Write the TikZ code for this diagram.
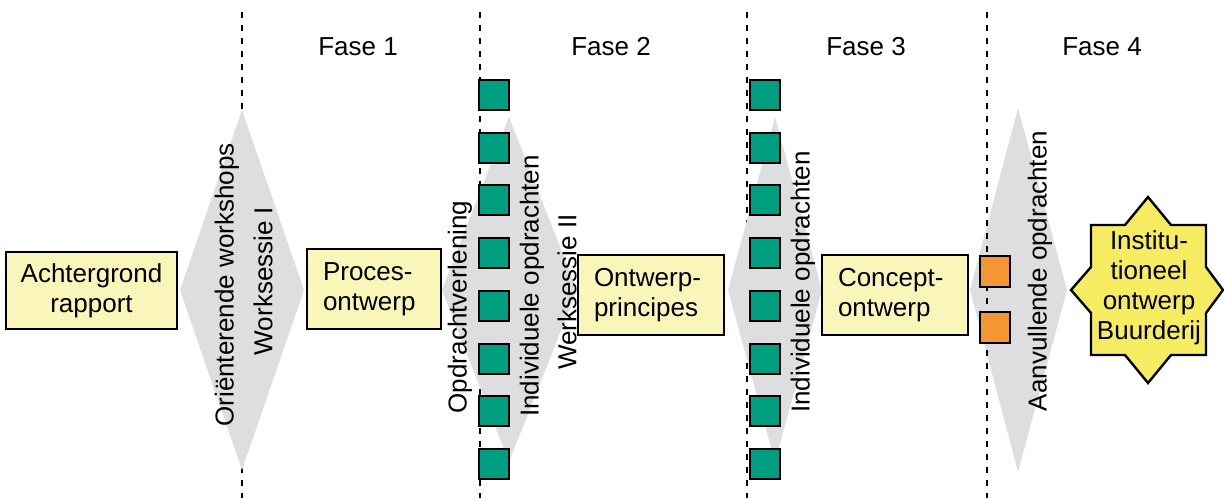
\documentclass[tikz,border=0pt]{standalone}
\usepackage{fontspec}
\setmainfont{Liberation Sans}
\definecolor{boxfill}{RGB}{250,246,186}
\definecolor{starfill}{RGB}{246,236,98}
\definecolor{sqgreen}{RGB}{0,158,128}
\definecolor{sqorange}{RGB}{244,150,52}
\definecolor{diagray}{RGB}{222,222,225}
\tikzset{
  txt/.style={font=\fontsize{13}{15}\selectfont, inner sep=0pt},
  vtxt/.style={txt, rotate=90},
  box/.style={draw=black, line width=1.2pt, fill=boxfill, font=\fontsize{13}{15}\selectfont, inner ysep=0pt},
  lbox/.style={box, align=left, inner xsep=8pt, text width=#1},
  gsq/.style={draw=black, line width=1pt, fill=sqgreen, minimum width=15pt, minimum height=15pt, inner sep=0pt},
  osq/.style={draw=black, line width=1pt, fill=sqorange, minimum width=15pt, minimum height=15.5pt, inner sep=0pt},
  phaseline/.style={draw=black, line width=0.75pt, dash pattern=on 3pt off 3.5pt},
  grayd/.style={fill=diagray}
}
\begin{document}
\begin{tikzpicture}[x=0.5pt,y=-0.5pt]
\useasboundingbox (0,0) rectangle (1224,498);

% phase separators (endpoints)
\coordinate (l1t) at (242,12);  \coordinate (l1b) at (242,498);
\coordinate (l2t) at (480,12);  \coordinate (l2b) at (480,498);
\coordinate (l3t) at (747,12);  \coordinate (l3b) at (747,498);
\coordinate (l4t) at (987,12);  \coordinate (l4b) at (987,498);

\draw[phaseline] (l1t) -- (l1b);
\draw[phaseline] (l2t) -- (l2b);
\draw[phaseline] (l3t) -- (l3b);

% gray diamonds
\fill[grayd] (242,110) -- (304,290) -- (242,470) -- (180,290) -- cycle;
\fill[grayd] (509,117) -- (577,290) -- (509,462) -- (442,290) -- cycle;
\fill[grayd] (775,117) -- (822,290) -- (775,462) -- (728,290) -- cycle;
\fill[grayd] (1018,108) -- (1067,290) -- (1018,472) -- (970,290) -- cycle;

\draw[phaseline] (l4t) -- (l4b);

% phase titles
\node[txt] (f1) at (358,47) {Fase 1};
\node[txt] (f2) at (611,47) {Fase 2};
\node[txt] (f3) at (866,47) {Fase 3};
\node[txt] (f4) at (1102,47) {Fase 4};

% boxes
\node[box, align=center, minimum width=85.5pt, minimum height=38.5pt] (achter) at (91.5,290.5) {Achtergrond\\rapport};
\node[lbox=51pt, minimum height=40pt] (proces) at (374,289) {Proces-\\ontwerp};
\node[lbox=57pt, minimum height=40pt] (ontwerp) at (651,295) {Ontwerp-\\principes};
\node[lbox=57pt, minimum height=40pt] (concept) at (895,295) {Concept-\\ontwerp};

% rotated texts
\node[vtxt] (orient) at (227,285) {Oriënterende workshops};
\node[vtxt] (ws1) at (263,281) {Worksessie I};
\node[vtxt] (opdr) at (460,307) {Opdrachtverlening};
\node[vtxt] (indiv1) at (532,286) {Individuele opdrachten};
\node[vtxt] (ws2) at (567,292) {Werksessie II};
\node[vtxt] (indiv2) at (803,282) {Individuele opdrachten};
\node[vtxt] (aanv) at (1040,271) {Aanvullende opdrachten};

% green squares
\foreach \i in {0,...,7} {
  \node[gsq] (ga\i) at (493.5,{95+52.7*\i}) {};
  \node[gsq] (gb\i) at (764.5,{95+52.7*\i}) {};
}

% orange squares
\node[osq] (o1) at (995,271) {};
\node[osq] (o2) at (995,327) {};

% star
\filldraw[fill=starfill, draw=black, line width=1.2pt, line join=miter]
  (1148,197) -- (1171,225) -- (1206,225) -- (1206,267) -- (1223,290)
  -- (1206,313) -- (1206,355) -- (1171,355) -- (1148,383)
  -- (1125,355) -- (1091,355) -- (1091,313) -- (1071,290)
  -- (1091,267) -- (1091,225) -- (1125,225) -- cycle;
\node[txt, align=center] (inst) at (1149,288) {Institu-\\tioneel\\ontwerp\\Buurderij};
\end{tikzpicture}
\end{document}
